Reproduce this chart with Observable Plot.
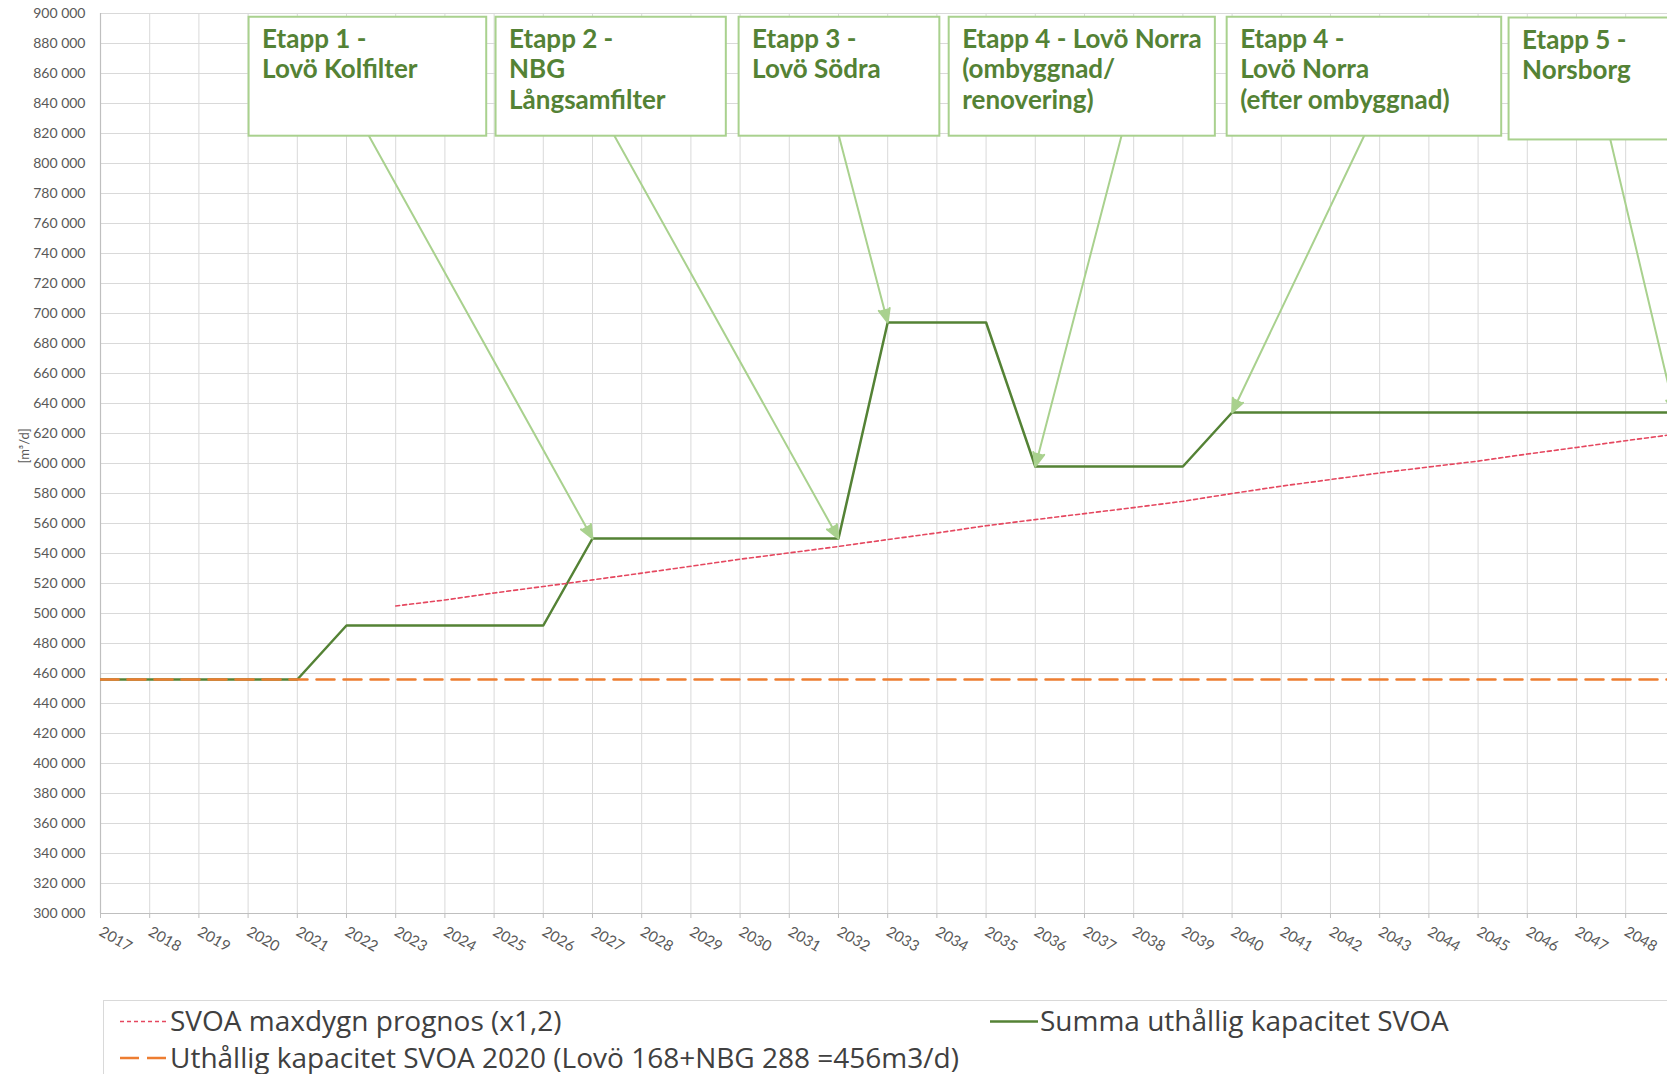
<!DOCTYPE html>
<html><head><meta charset="utf-8">
<script src="https://cdn.jsdelivr.net/npm/d3@7"></script>
<script src="https://cdn.jsdelivr.net/npm/@observablehq/plot@0.6"></script>
<style>
html,body{margin:0;padding:0;background:#fff;overflow:hidden}
#wrap{position:relative;width:1667px;height:1074px;overflow:hidden;background:#fff}
#chart svg{display:block}
#legend{position:absolute;left:103px;top:1000px;width:1700px;height:140px;border:1.5px solid #d9d9d9;box-sizing:border-box;background:#fff}
#legend svg{position:absolute;left:0;top:0;overflow:visible}
</style></head><body>
<div id="wrap"><div id="chart"></div><div id="legend"></div></div>
<script>
// ---- data ----
const years = [2017,2018,2019,2020,2021,2022,2023,2024,2025,2026,2027,2028,2029,2030,2031,2032,2033,2034,2035,2036,2037,2038,2039,2040,2041,2042,2043,2044,2045,2046,2047,2048];
const yTicks = [300000,320000,340000,360000,380000,400000,420000,440000,460000,480000,500000,520000,540000,560000,580000,600000,620000,640000,660000,680000,700000,720000,740000,760000,780000,800000,820000,840000,860000,880000,900000];

const capacityYears = [2017,2018,2019,2020,2021,2022,2023,2024,2025,2026,2027,2028,2029,2030,2031,2032,2033,2034,2035,2036,2037,2038,2039,2040,2041,2042,2043,2044,2045,2046,2047,2048,2049];
const capacityValues = [456000,456000,456000,456000,456000,492000,492000,492000,492000,492000,550000,550000,550000,550000,550000,550000,694000,694000,694000,598000,598000,598000,598000,634000,634000,634000,634000,634000,634000,634000,634000,634000,634000];

const baselineYears = capacityYears;
const baselineValues = [456000,456000,456000,456000,456000,456000,456000,456000,456000,456000,456000,456000,456000,456000,456000,456000,456000,456000,456000,456000,456000,456000,456000,456000,456000,456000,456000,456000,456000,456000,456000,456000,456000];

const forecastYears = [2023,2024,2025,2026,2027,2028,2029,2030,2031,2032,2033,2034,2035,2036,2037,2038,2039,2040,2041,2042,2043,2044,2045,2046,2047,2048,2049];
const forecastValues = [505000,509000,513700,518000,522400,526900,531500,536200,540400,544700,549300,553700,558500,562600,566600,570600,574800,580000,584900,589300,593700,597700,601600,606300,610700,615200,619500];

const seriesNames = ["SVOA maxdygn prognos (x1,2)", "Uthållig kapacitet SVOA 2020 (Lovö 168+NBG 288 =456m3/d)", "Summa uthållig kapacitet SVOA"];

const stageLabels = ["Etapp 1 -\nLovö Kolfilter", "Etapp 2 -\nNBG\nLångsamfilter", "Etapp 3 -\nLovö Södra", "Etapp 4 - Lovö Norra\n(ombyggnad/\nrenovering)", "Etapp 4 -\nLovö Norra\n(efter ombyggnad)", "Etapp 5 -\nNorsborg"];
const boxX1 = [2020.02, 2025.04, 2029.98, 2034.25, 2039.90, 2045.63];
const boxX2 = [2024.85, 2029.72, 2034.06, 2039.66, 2045.48, 2049.6];
const boxTop = [897500, 897500, 897500, 897500, 897500, 897000];
const boxBottom = [818200, 818200, 818200, 818200, 818200, 815700];
const arrowFromX = [2022.46, 2027.45, 2032.01, 2037.75, 2042.68, 2047.69];
const arrowToX = [2027, 2032, 2033, 2036, 2040, 2049];
const arrowToY = [550000, 550000, 694000, 598000, 634000, 634000];

// ---- styles ----
const GREEN = "#548235", ORANGE = "#ed7d31", RED = "#e5475f", LIGHT = "#a9d18e", GRID = "#d9d9d9";
const fmt = d3.formatLocale({decimal: ",", thousands: " ", grouping: [3], currency: ["", ""]}).format(",d");

const cap = capacityYears.map((x, i) => ({x, y: capacityValues[i]}));
const base = baselineYears.map((x, i) => ({x, y: baselineValues[i]}));
const fc = forecastYears.map((x, i) => ({x, y: forecastValues[i]}));
const idx = stageLabels.map((_, i) => i);

const chart = Plot.plot({
  width: 1667, height: 1000,
  marginLeft: 100, marginRight: 0, marginTop: 13, marginBottom: 87,
  style: {fontFamily: "Lato", fontSize: "14px", color: "#595959", background: "#fff", overflow: "hidden"},
  x: {domain: [2017, 2048.85]},
  y: {domain: [300000, 900000]},
  marks: [
    Plot.gridX(years, {stroke: GRID, strokeOpacity: 1}),
    Plot.gridY(yTicks, {stroke: GRID, strokeOpacity: 1}),
    Plot.ruleY([300000], {stroke: "#bfbfbf", strokeWidth: 1.2}),
    Plot.ruleX([2017], {stroke: "#bfbfbf", strokeWidth: 1.2}),
    Plot.axisY(yTicks, {tickSize: 0, tickPadding: 15, tickFormat: fmt, label: null, fill: "#595959"}),
    Plot.axisX(years, {tickSize: 5, tickPadding: 12, tickRotate: 30, fontSize: 15, tickFormat: d => String(d), label: null, stroke: "#bfbfbf", fill: "#595959"}),
    Plot.text(["[m³/d]"], {frameAnchor: "left", dx: -76, rotate: -90, fontSize: 13, fill: "#595959"}),
    Plot.line(cap, {x: "x", y: "y", stroke: GREEN, strokeWidth: 2.5, clip: true}),
    Plot.line(base, {x: "x", y: "y", stroke: ORANGE, strokeWidth: 2.5, strokeDasharray: "18,9", clip: true}),
    Plot.line(fc, {x: "x", y: "y", stroke: RED, strokeWidth: 1.6, strokeDasharray: "4,3", clip: true}),
    Plot.rect(idx, {x1: i => boxX1[i], x2: i => boxX2[i], y1: i => boxBottom[i], y2: i => boxTop[i], fill: "#fff", stroke: LIGHT, strokeWidth: 2}),
    Plot.text(idx, {x: i => boxX1[i], y: i => boxTop[i], text: i => stageLabels[i], dx: 13, dy: 9, textAnchor: "start", lineAnchor: "top", lineHeight: 1.17, fontSize: 26, fontWeight: "bold", fill: GREEN}),
    Plot.arrow(idx, {x1: i => arrowFromX[i], y1: i => boxBottom[i], x2: i => arrowToX[i], y2: i => arrowToY[i], stroke: LIGHT, fill: LIGHT, strokeWidth: 2, headLength: 11, headAngle: 45, inset2: 9, clip: true})
  ]
});
document.getElementById("chart").appendChild(chart);

// ---- legend (HTML-level, below the plot) ----
const lg = d3.select("#legend").append("svg").attr("width", 1600).attr("height", 140)
  .style("font-family", "'Open Sans'").style("font-size", "28px");
const items = [
  {x: 16, y: 20.5, color: RED, width: 1.6, dash: "4,3", text: seriesNames[0]},
  {x: 16, y: 57, color: ORANGE, width: 2.5, dash: "19,8", text: seriesNames[1]},
  {x: 886, y: 20.5, color: GREEN, width: 2.5, dash: null, text: seriesNames[2]}
];
for (const it of items) {
  lg.append("line").attr("x1", it.x).attr("x2", it.x + 48).attr("y1", it.y).attr("y2", it.y)
    .attr("stroke", it.color).attr("stroke-width", it.width).attr("stroke-dasharray", it.dash);
  lg.append("text").attr("x", it.x + 50).attr("y", it.y + 9.5).attr("fill", "#404040").text(it.text);
}
</script>
</body></html>
